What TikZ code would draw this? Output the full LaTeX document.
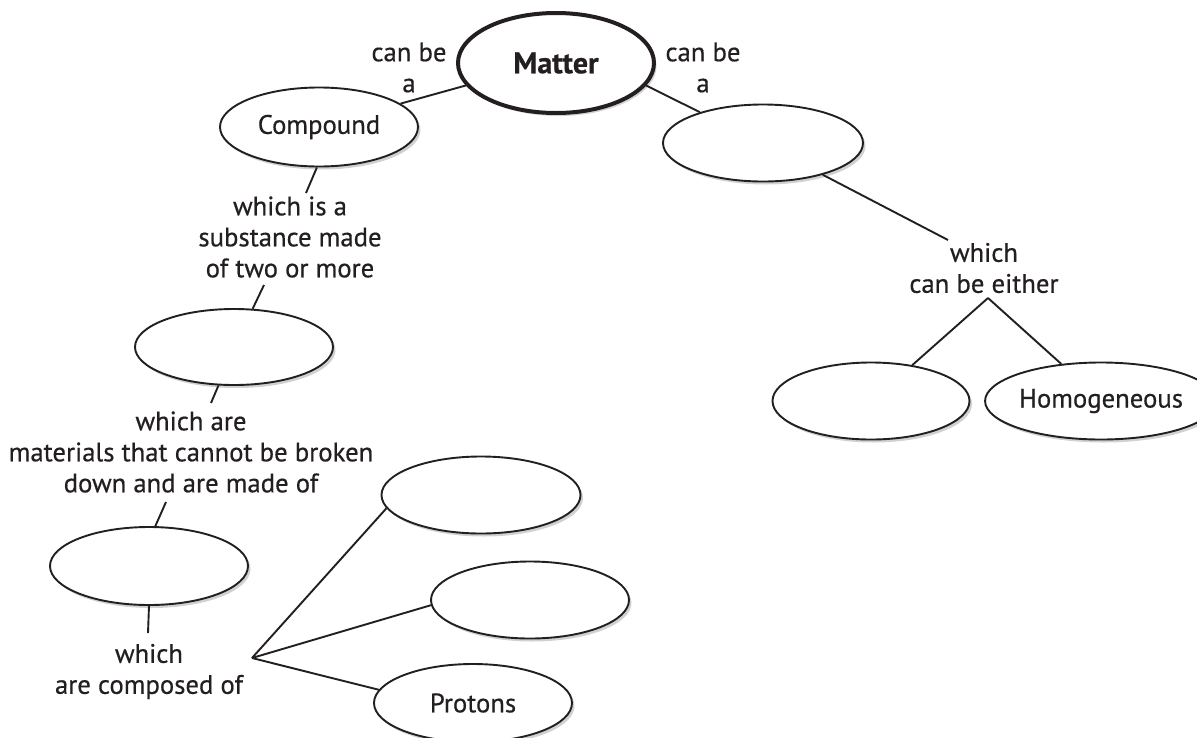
\documentclass[tikz,border=0pt]{standalone}
\usepackage{fontspec}
\setmainfont{PT Sans}[FakeBold=0.5]
\usetikzlibrary{shapes.geometric,shadows,calc}
\definecolor{ink}{HTML}{231F20}
\begin{document}
\begin{tikzpicture}[x=1pt,y=-1pt,
  el/.style={ellipse, draw=ink, line width=1.9pt, fill=white, inner sep=0pt,
    font=\fontsize{26.7}{31}\selectfont, text=ink,
    drop shadow={shadow xshift=2.5pt, shadow yshift=-3pt, opacity=0.18, fill=black}},
  lbl/.style={align=center, inner sep=0pt, text=ink, font=\fontsize{26.7}{31}\selectfont},
  conn/.style={line width=1.9pt, draw=ink}]
\useasboundingbox (0,0) rectangle (1197,737);
\fill[white] (0,0) rectangle (1197,737);

% ellipses
\node[el, minimum width=196pt, minimum height=100pt, line width=4pt,
      font=\fontsize{30}{31}\selectfont\bfseries] (matter) at (556,63) {Matter};
\node[el, minimum width=198pt, minimum height=79pt] (compound) at (319,127) {Compound};
\node[el, minimum width=200pt, minimum height=77pt] (rtop) at (763,143) {};
\node[el, minimum width=198pt, minimum height=76pt] (l2) at (234,347) {};
\node[el, minimum width=198pt, minimum height=78pt] (l3) at (149,566) {};
\node[el, minimum width=199pt, minimum height=77pt] (r1) at (481,495) {};
\node[el, minimum width=198pt, minimum height=77pt] (r2) at (530,600) {};
\node[el, minimum width=198pt, minimum height=78pt] (protons) at (473,703) {Protons};
\node[el, minimum width=197pt, minimum height=77pt] (r3) at (871,401) {};
\node[el, minimum width=196pt, minimum height=77pt] (homog) at (1101,401) {Homogeneous};

% labels
\node[lbl] (lcb) at (409,67.5) {can be\\a};
\node[lbl] (rcb) at (703,67.5) {can be\\a};
\node[lbl] (t1) at (290,237) {which is a\\substance made\\of two or more};
\node[lbl] (t2) at (191,452) {which are\\materials that cannot be broken\\down and are made of};
\node[lbl] (t3) at (149,671.5) {which\\are composed of};
\node[lbl] (t4) at (984,268) {which\\can be either};

\coordinate (ap1) at (252,658);
\coordinate (ap2) at ($(t4.center)+(4,30)$);

% connectors
\draw[conn] (matter.194) -- (compound.16);
\draw[conn] (matter.-14) -- (rtop.154);
\draw[conn] (compound.267) -- ($(t1.center)+(16,-44)$);
\draw[conn] ($(t1.center)+(-26,48)$) -- (l2.64);
\draw[conn] (l2.248) -- ($(t2.center)+(20,-49)$);
\draw[conn] ($(t2.center)+(-25,50)$) -- (l3.81);
\draw[conn] (l3.south) -- ($(t3.center)+(-1,-38.5)$);
\draw[conn] (ap1) -- (r1.188);
\draw[conn] (ap1) -- (r2.183);
\draw[conn] (ap1) -- (protons.172);
\draw[conn] (rtop.-28) -- ($(t4.center)+(-36,-28)$);
\draw[conn] (ap2) -- (r3.41);
\draw[conn] (ap2) -- (homog.137);
\end{tikzpicture}
\end{document}
